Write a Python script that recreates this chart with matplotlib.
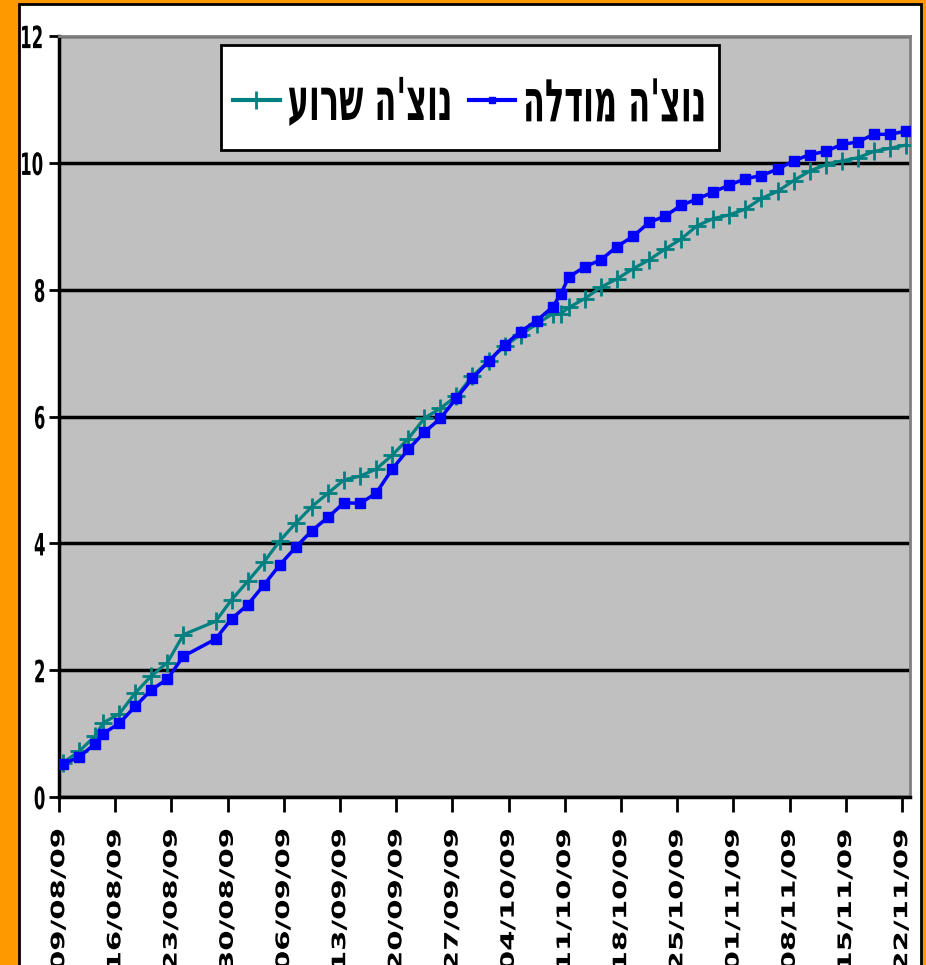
import matplotlib

matplotlib.use("Agg")
import matplotlib.pyplot as plt
import matplotlib.dates as mdates
from matplotlib.lines import Line2D
from matplotlib.patches import Rectangle
from matplotlib.patheffects import AbstractPathEffect
from matplotlib.transforms import Affine2D
import pandas as pd

# Measurement dates (dd/mm/yy)
dates = ["09/08/09", "11/08/09", "13/08/09", "14/08/09", "16/08/09", "18/08/09",
         "20/08/09", "22/08/09", "24/08/09", "28/08/09", "30/08/09", "01/09/09",
         "03/09/09", "05/09/09", "07/09/09", "09/09/09", "11/09/09", "13/09/09",
         "15/09/09", "17/09/09", "19/09/09", "21/09/09", "23/09/09", "25/09/09",
         "27/09/09", "29/09/09", "01/10/09", "03/10/09", "05/10/09", "07/10/09",
         "09/10/09", "10/10/09", "11/10/09", "13/10/09", "15/10/09", "17/10/09",
         "19/10/09", "21/10/09", "23/10/09", "25/10/09", "27/10/09", "29/10/09",
         "31/10/09", "02/11/09", "04/11/09", "06/11/09", "08/11/09", "10/11/09",
         "12/11/09", "14/11/09", "16/11/09", "18/11/09", "20/11/09", "22/11/09"]

# observed series (teal, + markers)
observed = [0.54, 0.72, 0.96, 1.17, 1.31, 1.64, 1.91, 2.12, 2.56, 2.77, 3.11, 3.40,
            3.70, 4.04, 4.32, 4.58, 4.79, 5.00, 5.06, 5.17, 5.39, 5.65, 5.97, 6.13,
            6.32, 6.64, 6.87, 7.11, 7.29, 7.46, 7.62, 7.62, 7.72, 7.86, 8.04, 8.17,
            8.33, 8.47, 8.64, 8.80, 9.01, 9.12, 9.18, 9.27, 9.44, 9.55, 9.72, 9.87,
            9.97, 10.03, 10.08, 10.18, 10.23, 10.28]

# model series (blue, square markers)
model = [0.52, 0.63, 0.84, 1.00, 1.16, 1.43, 1.69, 1.86, 2.22, 2.49, 2.81, 3.03,
         3.34, 3.66, 3.94, 4.20, 4.41, 4.64, 4.63, 4.79, 5.17, 5.48, 5.75, 5.97,
         6.29, 6.60, 6.87, 7.13, 7.34, 7.51, 7.73, 7.93, 8.20, 8.36, 8.47, 8.68,
         8.84, 9.06, 9.16, 9.33, 9.43, 9.54, 9.65, 9.75, 9.80, 9.90, 10.03, 10.13,
         10.18, 10.29, 10.33, 10.45, 10.45, 10.50]

labels = ["נוצ'ה שרוע", "נוצ'ה מודלה"]
yticks = [0, 2, 4, 6, 8, 10, 12]


class Stretch(AbstractPathEffect):
    """Scale a text path around a point of its own box (fake condensed/tall fonts)."""

    def __init__(self, sx=1.0, sy=1.0, fx=0.5, fy=0.5):
        super().__init__()
        self.sx, self.sy, self.fx, self.fy = sx, sy, fx, fy

    def draw_path(self, renderer, gc, tpath, affine, rgbFace=None):
        bb = affine.transform_path(tpath).get_extents()
        x0 = bb.x0 + self.fx * bb.width
        y0 = bb.y0 + self.fy * bb.height
        t = affine + Affine2D().translate(-x0, -y0).scale(self.sx, self.sy).translate(x0, y0)
        renderer.draw_path(gc, tpath, t, rgbFace)


W, H = 926, 965
fig = plt.figure(figsize=(W / 100, H / 100), dpi=100, facecolor="#FF9900")
fig.patches.append(
    Rectangle((19 / W, -0.02), (921 - 19) / W, 1.02 - 4 / H, transform=fig.transFigure,
              facecolor="white", edgecolor="black", lw=2, zorder=-10)
)

ax = fig.add_axes([59 / W, 1 - 797 / H, 851 / W, 761 / H])
ax.set_zorder(1)
ax.set_facecolor("#C0C0C0")

x = pd.to_datetime(dates, format="%d/%m/%y") + pd.Timedelta(hours=12)

ax.plot(x, observed, color="#008080", lw=2.3, marker="+", ms=13, mew=2, zorder=3)
ax.plot(x, model, color="#0000FF", lw=2.5, marker="s", ms=6.5, zorder=4)

ax.set_ylim(0, 12)
ax.set_xlim(pd.Timestamp("2009-08-09"), pd.Timestamp("2009-11-23"))
ax.set_yticks(yticks)
ax.yaxis.grid(True, color="black", lw=2.5)
ax.set_axisbelow(True)

ticks = pd.date_range("2009-08-09", "2009-11-22", freq="7D")
ax.set_xticks(ticks)
ax.xaxis.set_major_formatter(mdates.DateFormatter("%d/%m/%y"))

for side in ["left", "bottom"]:
    ax.spines[side].set_color("black")
    ax.spines[side].set_linewidth(2.5)
for side in ["top", "right"]:
    ax.spines[side].set_color("#808080")
    ax.spines[side].set_linewidth(2)

ax.tick_params(axis="y", length=7, width=2, pad=1)
ax.tick_params(axis="x", length=11, width=2, pad=12)
for t in ax.get_yticklabels():
    t.set_fontweight("bold")
    t.set_fontsize(17)
    t.set_path_effects([Stretch(sx=0.7, sy=1.3)])
for t in ax.get_xticklabels():
    t.set_fontweight("bold")
    t.set_fontsize(14)
    t.set_rotation(90)
    t.set_va("top")
    t.set_ha("center")
    t.set_path_effects([Stretch(sx=0.95, sy=1.5, fy=1.0)])

# legend box drawn separately so its height can follow the reference
ax.add_patch(Rectangle((0.1904, 0.8502), 0.5852, 0.138, transform=ax.transAxes,
                       facecolor="white", edgecolor="black", lw=2, zorder=9))

# Hebrew text is given in visual order for left-to-right drawing
handles = [
    Line2D([], [], color="#008080", lw=3, marker="+", ms=13, mew=2),
    Line2D([], [], color="#0000FF", lw=3, marker="s", ms=5),
]
leg = ax.legend(handles, [s[::-1] for s in labels], ncol=2, loc="center",
                bbox_to_anchor=(0.483, 0.912), frameon=False,
                handlelength=1.45, handletextpad=0.25, columnspacing=0.5,
                borderpad=0, prop={"weight": "bold", "size": 23})
leg.set_zorder(10)
for t in leg.get_texts():
    t.set_path_effects([Stretch(sx=1.0, sy=1.85)])

fig.savefig("out.png", dpi=100, facecolor=fig.get_facecolor())
